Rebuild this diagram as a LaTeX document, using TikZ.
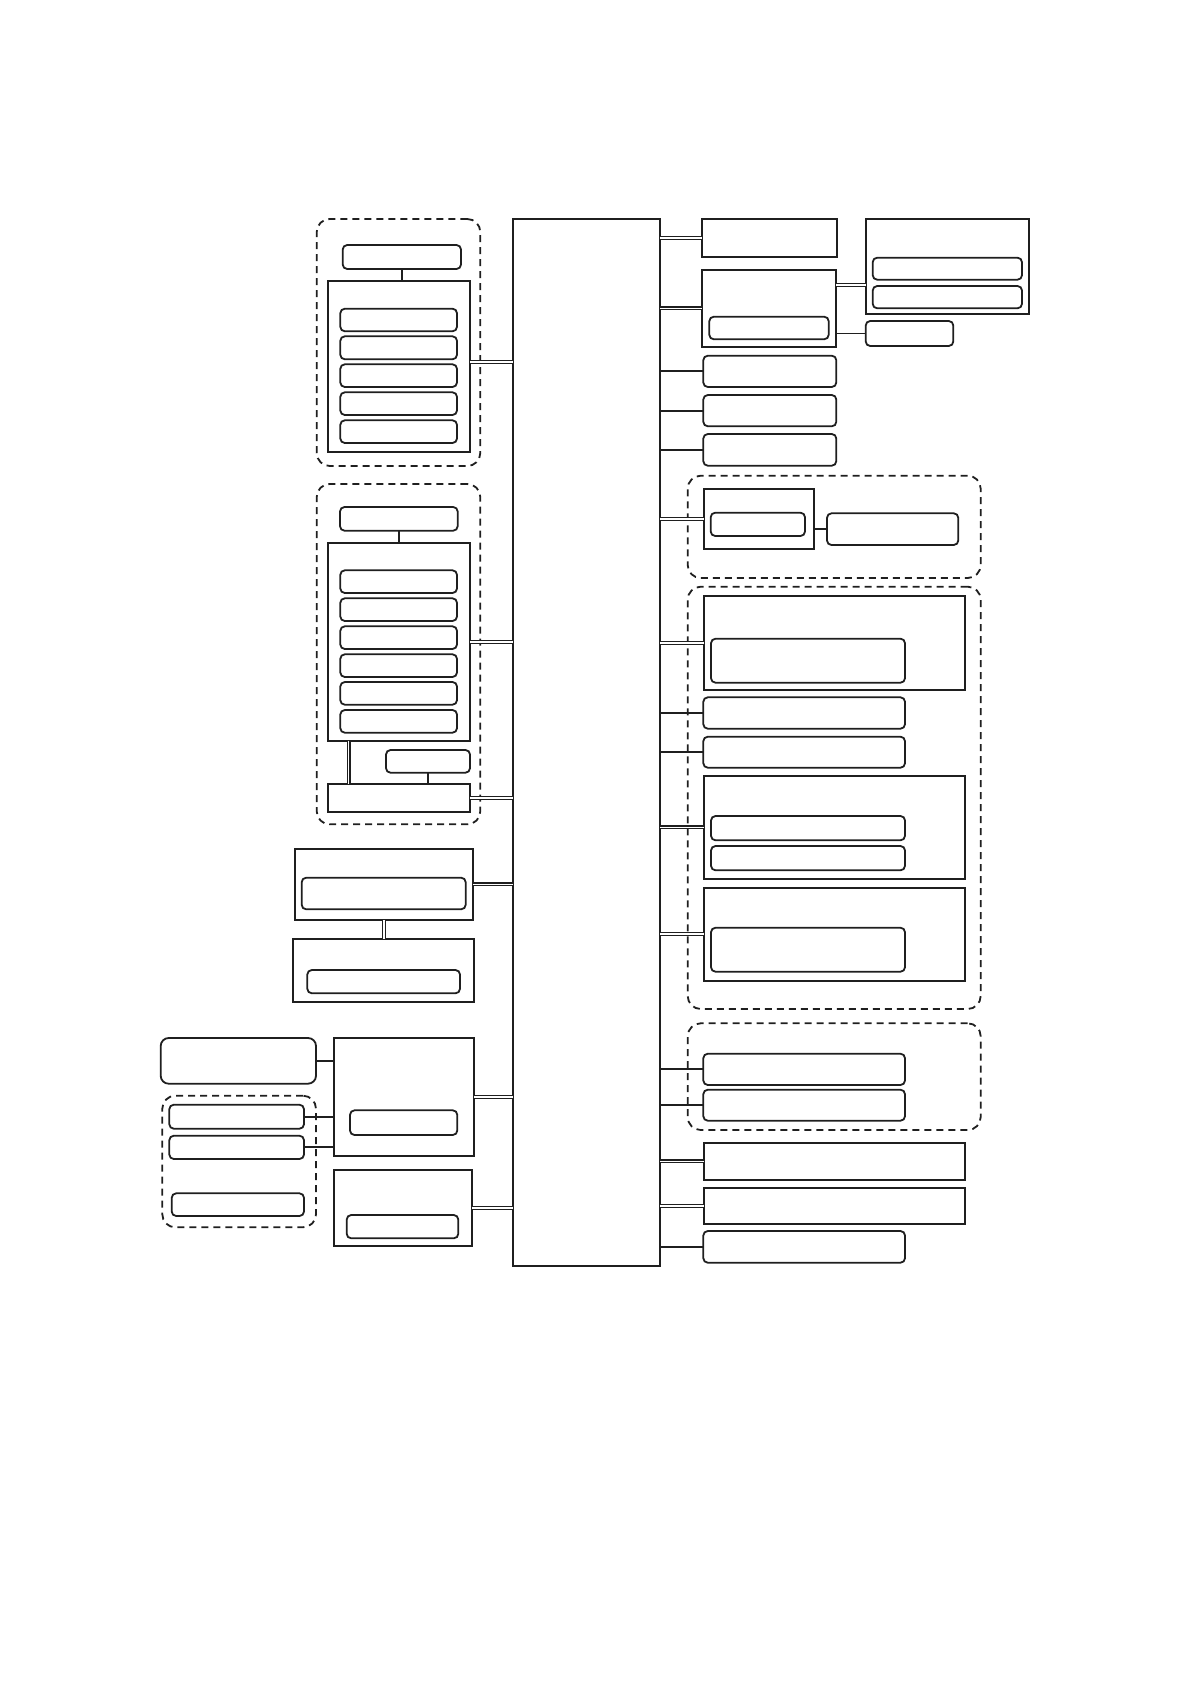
\documentclass[tikz,border=0pt]{standalone}
\usetikzlibrary{calc}
\tikzset{
  ink/.style={draw=black!88},
  rectbox/.style={ink, line width=2pt, inner sep=0pt, outer sep=0pt, shape=rectangle},
  rbox/.style={ink, line width=1.8pt, rounded corners=4.5pt, inner sep=0pt, outer sep=0pt, shape=rectangle},
  rboxbig/.style={rbox, rounded corners=8pt},
  grp/.style={ink, line width=1.8pt, dash pattern=on 7pt off 5pt, rounded corners=13pt, inner sep=0pt, outer sep=0pt, shape=rectangle},
  lnk/.style={draw=black!88, line width=1.9pt},
  dbl/.style={draw=black!88, double=white, line width=1.25pt, double distance=1.7pt}
}
\newcommand{\bx}[6]{\node[#2, minimum width={#5-#3}, minimum height={#6-#4}, anchor=north west] (#1) at (#3,#4) {};}
\begin{document}
\begin{tikzpicture}[x=1pt,y=-1pt]
\useasboundingbox (0,0) rectangle (1190,1684);
% dashed groups
\bx{g1}{grp}{316.7}{219}{480.3}{466}
\bx{g2}{grp}{316.7}{484}{480.3}{824.3}
\bx{g6}{grp}{162.3}{1095.7}{316}{1227.3}
\bx{g3}{grp}{687.7}{475.7}{980.7}{578}
\bx{g4}{grp}{687.7}{586.7}{980.7}{1009}
\bx{g5}{grp}{687.7}{1023.3}{980.7}{1130}
% main
\bx{main}{rectbox}{512.7}{219}{660}{1266}
% left group 1
\bx{h1}{rbox}{342.7}{245}{461}{269}
\bx{c1}{rectbox}{328}{281.3}{470.3}{452}
\bx{c1a}{rbox}{340.3}{308.7}{457}{331.3}
\bx{c1b}{rbox}{340.3}{336.3}{457}{359.3}
\bx{c1c}{rbox}{340.3}{364.3}{457}{387}
\bx{c1d}{rbox}{340.3}{392.3}{457}{415}
\bx{c1e}{rbox}{340.3}{420.3}{457}{443}
% left group 2
\bx{h2}{rbox}{340}{507}{457.7}{530.7}
\bx{c2}{rectbox}{328}{542.7}{470.3}{740.7}
\bx{c2a}{rbox}{340.3}{570.3}{457}{593}
\bx{c2b}{rbox}{340.3}{598.3}{457}{621}
\bx{c2c}{rbox}{340.3}{626.3}{457}{649}
\bx{c2d}{rbox}{340.3}{654.3}{457}{677}
\bx{c2e}{rbox}{340.3}{682}{457}{704.7}
\bx{c2f}{rbox}{340.3}{710}{457}{732.7}
\bx{s2}{rbox}{386}{750}{470}{772.7}
\bx{b2}{rectbox}{328}{784}{470.3}{812}
% left lower
\bx{l1}{rectbox}{294.7}{848.7}{473.3}{920}
\bx{l1i}{rbox}{301.7}{877.7}{465.7}{909.3}
\bx{l2}{rectbox}{292.7}{939.3}{474.3}{1002.3}
\bx{l2i}{rbox}{307.3}{970}{460}{993.3}
\bx{l3}{rectbox}{333.7}{1037.7}{474.3}{1156}
\bx{l3i}{rbox}{350}{1110.3}{457.3}{1135}
\bx{bl}{rboxbig}{160.7}{1038}{316}{1083.7}
\bx{q1}{rbox}{169.3}{1104.7}{304}{1128.7}
\bx{q2}{rbox}{169.3}{1135.7}{304}{1159}
\bx{q3}{rbox}{171.7}{1193.3}{304}{1216}
\bx{l4}{rectbox}{333.7}{1170}{472.3}{1246}
\bx{l4i}{rbox}{346.7}{1215}{458.3}{1238.3}
% right
\bx{r1}{rectbox}{701.7}{219}{837}{257}
\bx{r2}{rectbox}{701.7}{270}{836.3}{346.7}
\bx{r2i}{rbox}{709.3}{316.7}{828.7}{339.3}
\bx{r2b}{rectbox}{865.7}{219}{1029.3}{314}
\bx{r2ba}{rbox}{872.7}{257.7}{1022}{279.7}
\bx{r2bb}{rbox}{872.7}{286}{1022}{308.3}
\bx{r2s}{rbox}{865.7}{321}{953.3}{346}
\bx{r3}{rbox}{703.3}{355.7}{836.3}{387}
\bx{r4}{rbox}{703.3}{395}{836.3}{426.3}
\bx{r5}{rbox}{703.3}{434}{836.3}{465.7}
\bx{r6}{rectbox}{703.7}{489}{814}{549.3}
\bx{r6i}{rbox}{710.7}{512.7}{805}{536}
\bx{r6b}{rbox}{827}{513.3}{958.3}{545}
\bx{ra}{rectbox}{704}{595.7}{965.3}{690}
\bx{rai}{rbox}{711}{638.7}{905}{682.7}
\bx{rb}{rbox}{703.3}{697.3}{905}{728.7}
\bx{rc}{rbox}{703.3}{736.7}{905}{767.7}
\bx{rd}{rectbox}{704}{775.7}{965.3}{879}
\bx{rda}{rbox}{711}{816}{905}{840.3}
\bx{rdb}{rbox}{711}{846}{905}{870.3}
\bx{re}{rectbox}{704}{887.7}{965.3}{980.7}
\bx{rei}{rbox}{711}{927.7}{905}{971.7}
\bx{rf}{rbox}{703.3}{1053.7}{905}{1085}
\bx{rg}{rbox}{703.3}{1089.7}{905}{1120.7}
\bx{rh}{rectbox}{703.7}{1142.7}{965.3}{1180}
\bx{ri}{rectbox}{703.7}{1187.7}{965.3}{1223.7}
\bx{rj}{rbox}{703.3}{1231}{905}{1262.7}
% connectors left to main
\path ($(c1.north east)!0.471!(c1.south east)$) coordinate (v1);
\draw[dbl] (v1) -- (v1 -| main.west);
\foreach \n in {c2,b2,l1,l3,l4}{
  \draw[dbl] (\n.east) -- (\n.east -| main.west);
}
% connectors main to right
\foreach \n in {r1,r2,r6,ra,rd,re,rh,ri}{
  \draw[dbl] (\n.west) -- (\n.west -| main.east);
}
\foreach \n in {r3,r4,r5,rb,rc,rf,rg,rj}{
  \draw[lnk] (\n.west) -- (\n.west -| main.east);
}
% internal connectors
\draw[lnk] (h1.south) -- (h1.south |- c1.north);
\draw[lnk] (h2.south) -- (h2.south |- c2.north);
\path ($(c2.south west)!0.145!(c2.south east)$) coordinate (v2);
\draw[dbl] (v2) -- (v2 |- b2.north);
\draw[lnk] (s2.south) -- (s2.south |- b2.north);
\draw[dbl] (l1.south) -- (l1.south |- l2.north);
\draw[lnk] (bl.east) -- (bl.east -| l3.west);
\draw[lnk] (q1.east) -- (q1.east -| l3.west);
\draw[lnk] (q2.east) -- (q2.east -| l3.west);
\path ($(r2.north east)!0.196!(r2.south east)$) coordinate (v3);
\draw[dbl] (v3) -- (v3 -| r2b.west);
\draw[lnk] (r2s.west) -- (r2s.west -| r2.east);
\draw[lnk] (r6b.west) -- (r6b.west -| r6.east);
\end{tikzpicture}
\end{document}
